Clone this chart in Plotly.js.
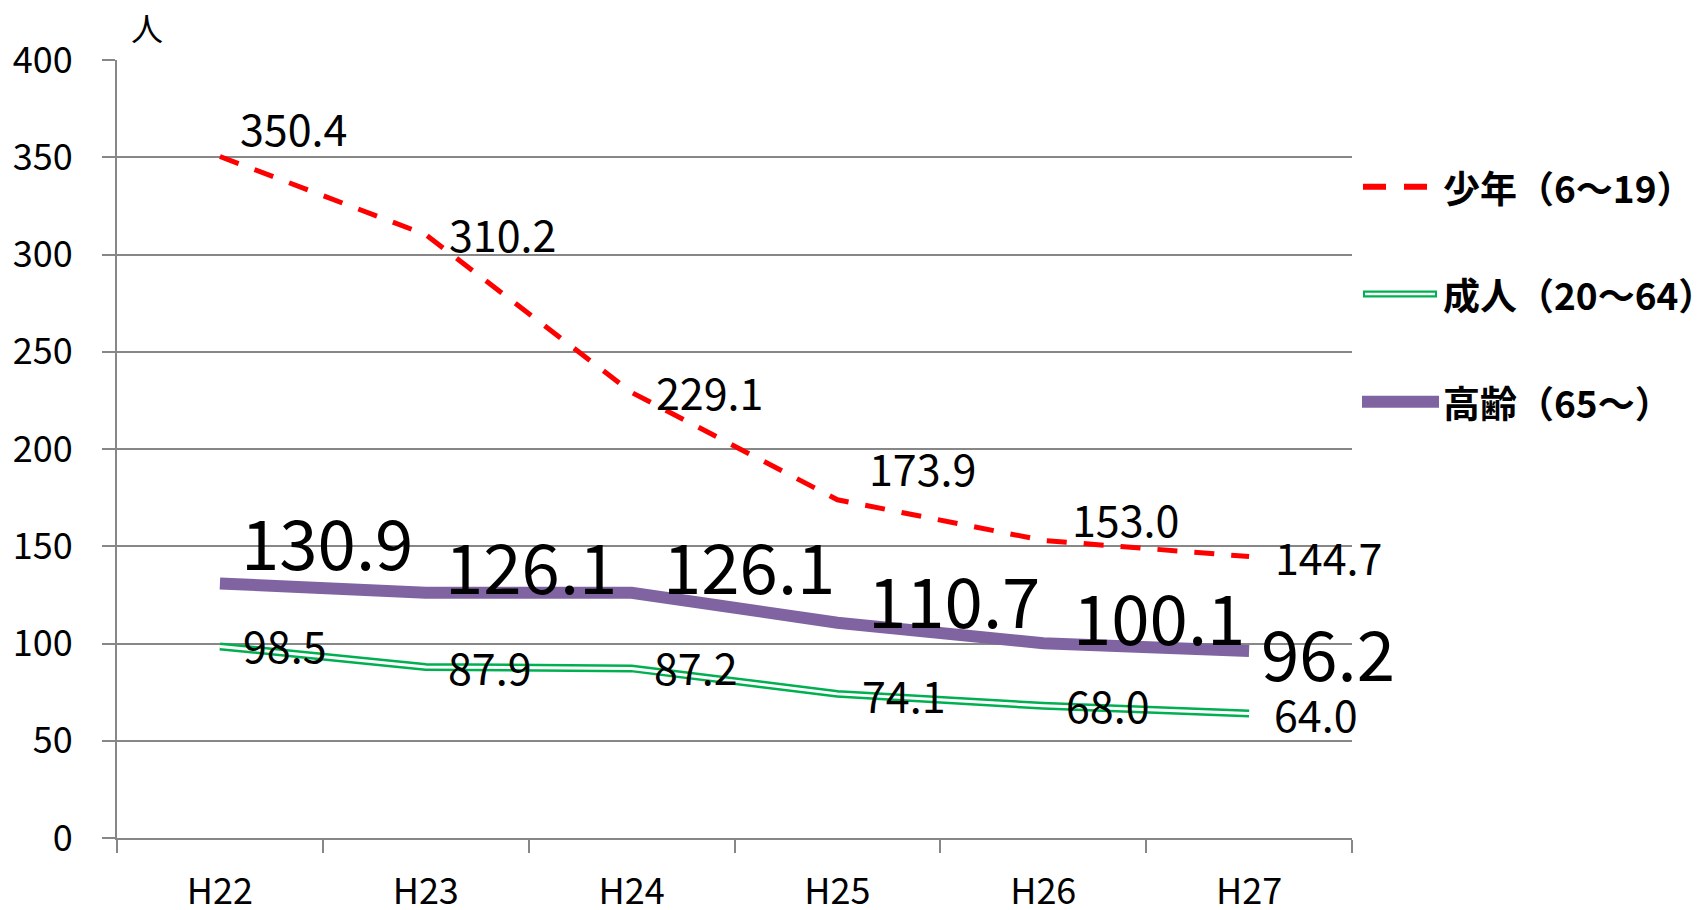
<!DOCTYPE html>
<html>
<head>
<meta charset="utf-8">
<script src="https://cdn.plot.ly/plotly-3.0.1.min.js"></script>
<style>html,body{margin:0;padding:0;background:#fff;}#chart{width:1698px;height:910px;}</style>
</head>
<body>
<div id="chart"></div>
<script>
// ---- data ----
const categories = ["H22", "H23", "H24", "H25", "H26", "H27"];
const youth  = [350.4, 310.2, 229.1, 173.9, 153.0, 144.7];   // 少年（6～19）
const adult  = [98.5, 87.9, 87.2, 74.1, 68.0, 64.0];         // 成人（20～64）
const senior = [130.9, 126.1, 126.1, 110.7, 100.1, 96.2];    // 高齢（65～）
const seriesNames = ["少年（6～19）", "成人（20～64）", "高齢（65～）"];
const yTicks = [0, 50, 100, 150, 200, 250, 300, 350, 400];
const unitLabel = "人";

// ---- styling / label placement (pixels, not data) ----
const FONT = "Noto Sans CJK JP";
const RED = "#FF0000", GREEN = "#00B050", PURPLE = "#8064A2", GRID = "#878787";
const youthOff  = [[21, 26], [24, -1], [25, -2], [33, 30], [30, 19], [27, -2]];
const adultOff  = [[24, -1], [23, -2], [23, -1], [26, -3], [24, -1], [26, -2]];
const seniorOff = [[22, 40], [20, 26], [32, 26], [32, 22], [31, 25], [13, -3]];
const LIFT = 3;

const traces = [
  {x: categories, y: youth, type: "scatter", mode: "lines", name: seriesNames[0],
   line: {color: RED, width: 5, dash: "20px,17px"}, showlegend: false, hoverinfo: "skip"},
  {x: categories, y: adult, type: "scatter", mode: "lines", name: seriesNames[1],
   line: {color: GREEN, width: 8}, showlegend: false, hoverinfo: "skip"},
  {x: categories, y: adult, type: "scatter", mode: "lines", name: seriesNames[1] + " inner",
   line: {color: "#FFFFFF", width: 3}, showlegend: false, hoverinfo: "skip"},
  {x: categories, y: senior, type: "scatter", mode: "lines", name: seriesNames[2],
   line: {color: PURPLE, width: 12}, showlegend: false, hoverinfo: "skip"}
];

const annotations = [];
function addLabels(vals, offs, size) {
  vals.forEach((v, i) => {
    annotations.push({
      x: categories[i], y: v, xref: "x", yref: "y", text: v.toFixed(1),
      showarrow: false, xanchor: "left", yanchor: "middle",
      xshift: offs[i][0] - 3, yshift: offs[i][1] + LIFT,
      font: {family: FONT, size: size, color: "#000"}
    });
  });
}
addLabels(youth, youthOff, 43);
addLabels(adult, adultOff, 43);
addLabels(senior, seniorOff, 69);

const W = 1698, H = 910, ML = 117, MR = 346, MT = 60, MB = 72;
const PW = W - ML - MR, PH = H - MT - MB;
const px = v => (v - ML) / PW, py = v => (H - MB - v) / PH;

// unit label
annotations.push({x: px(147), y: py(27), xref: "paper", yref: "paper", text: unitLabel, showarrow: false,
  xanchor: "center", yanchor: "middle", font: {family: FONT, size: 32, color: "#000"}});

// legend (manual, to reproduce the hollow green line)
const legendRows = [186.7, 294, 401.7];
const shapes = [
  {type: "line", xref: "paper", yref: "paper", x0: px(1363), x1: px(1427), y0: py(legendRows[0]), y1: py(legendRows[0]),
   line: {color: RED, width: 6, dash: "23px,18px"}},
  {type: "line", xref: "paper", yref: "paper", x0: px(1363), x1: px(1437), y0: py(legendRows[1]), y1: py(legendRows[1]),
   line: {color: GREEN, width: 7}},
  {type: "line", xref: "paper", yref: "paper", x0: px(1365), x1: px(1435), y0: py(legendRows[1]), y1: py(legendRows[1]),
   line: {color: "#FFFFFF", width: 2.5}},
  {type: "line", xref: "paper", yref: "paper", x0: px(1362), x1: px(1439), y0: py(legendRows[2]), y1: py(legendRows[2]),
   line: {color: PURPLE, width: 12}}
];
seriesNames.forEach((n, i) => {
  annotations.push({x: px(1441), y: py(legendRows[i]), xref: "paper", yref: "paper", text: n,
    showarrow: false, xanchor: "left", yanchor: "middle",
    font: {family: FONT, size: 37, color: "#000", weight: 700}});
});

const layout = {
  width: W, height: H,
  margin: {l: ML, r: MR, t: MT, b: MB, pad: 0},
  paper_bgcolor: "#FFFFFF", plot_bgcolor: "#FFFFFF",
  showlegend: false,
  xaxis: {type: "category", range: [-0.5, 5.5], tickson: "boundaries", ticks: "outside", ticklen: 13, tickwidth: 2, tickcolor: GRID,
    showline: true, linecolor: GRID, linewidth: 2, showgrid: false, zeroline: false,
    tickfont: {family: FONT, size: 36, color: "#000"}, ticklabelstandoff: 21, fixedrange: true},
  yaxis: {range: [0, 400], tickvals: yTicks, ticktext: yTicks.map(String), ticks: "outside", ticklen: 13, tickwidth: 2,
    tickcolor: GRID, showline: true, linecolor: GRID, linewidth: 2, showgrid: true, gridcolor: GRID, gridwidth: 2,
    zeroline: false, tickfont: {family: FONT, size: 36, color: "#000"}, ticklabelstandoff: 22, fixedrange: true},
  annotations: annotations,
  shapes: shapes
};

Plotly.newPlot("chart", traces, layout, {displayModeBar: false, staticPlot: true});
</script>
</body>
</html>
